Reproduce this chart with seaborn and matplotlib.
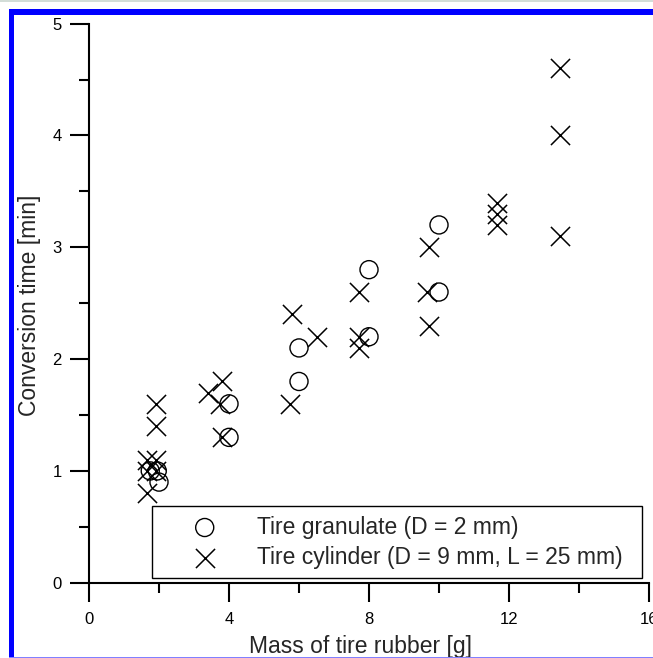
import matplotlib
matplotlib.use("Agg")
import matplotlib.pyplot as plt
from matplotlib.patches import Rectangle
from matplotlib.ticker import MultipleLocator
import seaborn as sns
import pandas as pd

# values
gran_label = "Tire granulate (D = 2 mm)"
gran_mass = [1.75, 1.95, 2.0, 4.0, 4.0, 6.0, 6.0, 8.0, 8.0, 10.0, 10.0]
gran_time = [1.0, 1.0, 0.9, 1.6, 1.3, 2.1, 1.8, 2.8, 2.2, 3.2, 2.6]

cyl_label = "Tire cylinder (D = 9 mm, L = 25 mm)"
cyl_mass = [1.65, 1.9, 1.65, 1.9, 1.65, 1.9, 1.9,
            3.4, 3.8, 3.75, 3.8,
            5.8, 6.5, 5.75,
            7.7, 7.7, 7.7,
            9.7, 9.65, 9.7,
            11.65, 11.65, 11.65,
            13.45, 13.45, 13.45]
cyl_time = [1.1, 1.1, 1.0, 1.0, 0.8, 1.6, 1.4,
            1.7, 1.8, 1.6, 1.3,
            2.4, 2.2, 1.6,
            2.6, 2.2, 2.1,
            3.0, 2.6, 2.3,
            3.4, 3.3, 3.2,
            4.6, 4.0, 3.1]

gran = pd.DataFrame({"mass": gran_mass, "time": gran_time})
cyl = pd.DataFrame({"mass": cyl_mass, "time": cyl_time})

sns.set_style("ticks")
plt.rcParams["font.family"] = ["Liberation Sans", "DejaVu Sans"]

fig = plt.figure(figsize=(6.53, 6.58), dpi=100)
ax = fig.add_axes([0.1363, 0.1144, 0.8576, 0.8496])

sns.scatterplot(data=gran, x="mass", y="time", ax=ax, marker="o", s=169,
                facecolors="none", edgecolors="black", linewidth=1.0,
                label=gran_label, zorder=3)
sns.scatterplot(data=cyl, x="mass", y="time", ax=ax, marker="x", s=190,
                color="black", linewidth=1.1, label=cyl_label, zorder=3)

ax.set_xlim(0, 16)
ax.set_ylim(0, 5)
ax.xaxis.set_major_locator(MultipleLocator(4))
ax.xaxis.set_minor_locator(MultipleLocator(2))
ax.yaxis.set_major_locator(MultipleLocator(1))
ax.yaxis.set_minor_locator(MultipleLocator(0.5))
ax.tick_params(which="major", length=13.5, width=1.5, labelsize=12,
               color="black", labelcolor="black")
ax.tick_params(axis="x", which="major", pad=7.5)
ax.tick_params(axis="y", which="major", pad=6)
ax.tick_params(which="minor", length=7, width=1.5, color="black")
for side in ["top", "right"]:
    ax.spines[side].set_visible(False)
for side in ["left", "bottom"]:
    ax.spines[side].set_linewidth(1.5)
    ax.spines[side].set_color("black")

ax.set_xlabel("Mass of tire rubber [g]", fontsize=16.5)
ax.set_ylabel("Conversion time [min]", fontsize=16.5)
ax.xaxis.set_label_coords(0.484, -0.093)
ax.yaxis.set_label_coords(-0.086, 0.497)

leg = ax.legend(loc="lower left", bbox_to_anchor=(0.1125, 0.0084, 0.875, 0.128),
                mode="expand", borderaxespad=0, fontsize=16.5, frameon=True,
                fancybox=False, edgecolor="black", framealpha=1,
                borderpad=0.4, handlelength=3.8, handletextpad=0.4,
                labelspacing=0.32, scatterpoints=1)
leg.get_frame().set_linewidth(1.0)

# page frame around the figure
fig.add_artist(Rectangle((0, 1 - 1.5 / 658), 1, 1.5 / 658, transform=fig.transFigure,
                         facecolor="#d3ddd8", edgecolor="none"))
fig.add_artist(Rectangle((9 / 653, 1 - 15 / 658), 1, 6 / 658, transform=fig.transFigure,
                         facecolor="#0000ff", edgecolor="none"))
fig.add_artist(Rectangle((9 / 653, 0), 5 / 653, 1 - 9 / 658, transform=fig.transFigure,
                         facecolor="#0000ff", edgecolor="none"))
fig.add_artist(Rectangle((9 / 653, 0), 1, 1.5 / 658, transform=fig.transFigure,
                         facecolor="#8080ff", edgecolor="none"))

fig.savefig("out.png", dpi=100)
